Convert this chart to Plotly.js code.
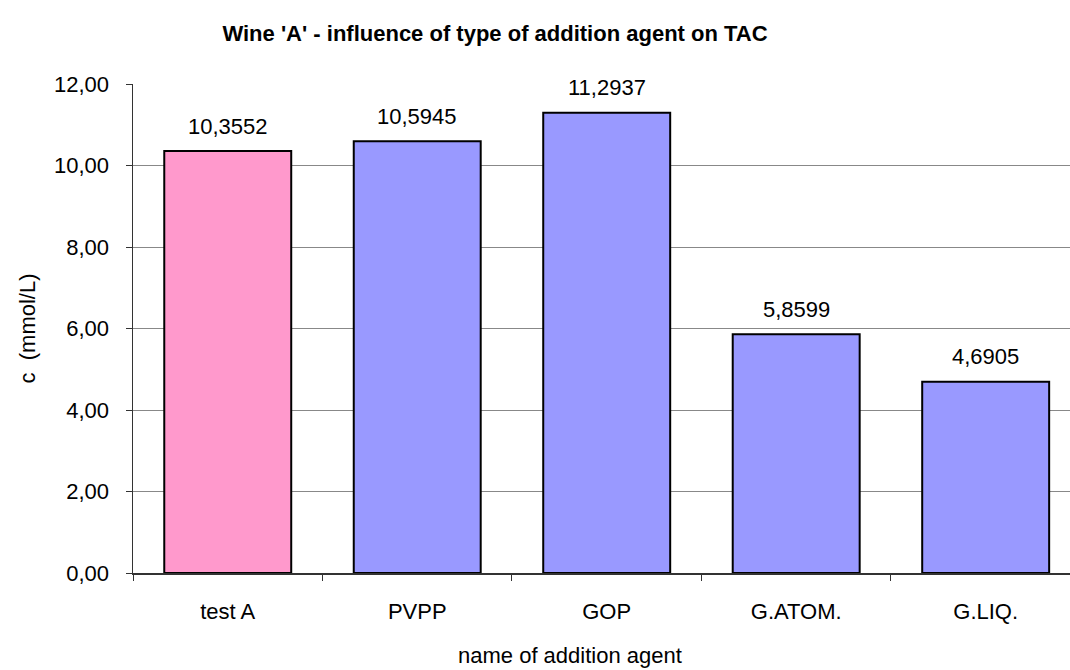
<!DOCTYPE html>
<html>
<head>
<meta charset="utf-8">
<script src="https://cdn.plot.ly/plotly-3.0.1.min.js"></script>
<style>html,body{margin:0;padding:0;background:#fff;}#chart{width:1070px;height:670px;}</style>
</head>
<body>
<div id="chart"></div>
<script>
const categories = ["test A", "PVPP", "GOP", "G.ATOM.", "G.LIQ."];
const values = [10.3552, 10.5945, 11.2937, 5.8599, 4.6905];
const barColors = ["#FF99CC", "#9999FF", "#9999FF", "#9999FF", "#9999FF"];
const yTickVals = [0, 2, 4, 6, 8, 10, 12];
const yTickText = ["0,00", "2,00", "4,00", "6,00", "8,00", "10,00", "12,00"];

const FONT = "Liberation Sans, Arial, sans-serif";
const FS = 22;
const L = 133, R = 1070;

const trace = {
  type: "bar",
  x: categories,
  y: values,
  width: 0.67,
  marker: { color: barColors, line: { color: "#000000", width: 2 } },
  hoverinfo: "none"
};

const labelAnns = categories.map((c, i) => ({
  x: c, y: values[i], xref: "x", yref: "y",
  text: values[i].toFixed(4).replace(".", ","),
  showarrow: false, yanchor: "middle", yshift: 25,
  font: { family: FONT, size: FS, color: "#000" }
}));

const layout = {
  width: 1070, height: 670,
  margin: { l: L, r: 1070 - R, t: 84, b: 97 },
  paper_bgcolor: "#fff", plot_bgcolor: "#fff",
  showlegend: false,
  font: { family: FONT, size: FS, color: "#000" },
  title: {
    text: "<b>Wine 'A' - influence of type of addition agent on TAC</b>",
    font: { family: FONT, size: FS, color: "#000" },
    x: 495 / 1070, xref: "container", xanchor: "center",
    y: 1 - 33 / 670, yref: "container", yanchor: "middle"
  },
  xaxis: {
    type: "category",
    range: [-0.5, 4.445],
    showgrid: false, zeroline: false,
    showline: true, linecolor: "#333", linewidth: 1.5,
    ticks: "outside", tickson: "boundaries", ticklen: 6, tickcolor: "#333", tickwidth: 1,
    ticklabelstandoff: 18,
    tickfont: { family: FONT, size: FS, color: "#000" },
    fixedrange: true
  },
  yaxis: {
    range: [0, 12],
    tickvals: yTickVals, ticktext: yTickText,
    showgrid: true, gridcolor: "#888888", gridwidth: 1,
    zeroline: false,
    showline: true, linecolor: "#333", linewidth: 1.5,
    ticks: "outside", ticklen: 6, tickcolor: "#333", tickwidth: 1,
    ticklabelstandoff: 12,
    tickfont: { family: FONT, size: FS, color: "#000" },
    fixedrange: true
  },
  annotations: labelAnns.concat([
    {
      text: "c  (mmol/L)", xref: "paper", yref: "paper",
      x: (27 - L) / (R - L), y: 0.5, xanchor: "center", yanchor: "middle",
      showarrow: false, textangle: -90,
      font: { family: FONT, size: FS, color: "#000" }
    },
    {
      text: "name of addition agent", xref: "paper", yref: "paper",
      x: (570 - L) / (R - L), y: 0, yshift: -82, showarrow: false,
      xanchor: "center", yanchor: "middle",
      font: { family: FONT, size: FS, color: "#000" }
    }
  ])
};

Plotly.newPlot("chart", [trace], layout, { displayModeBar: false, staticPlot: true });
</script>
</body>
</html>
